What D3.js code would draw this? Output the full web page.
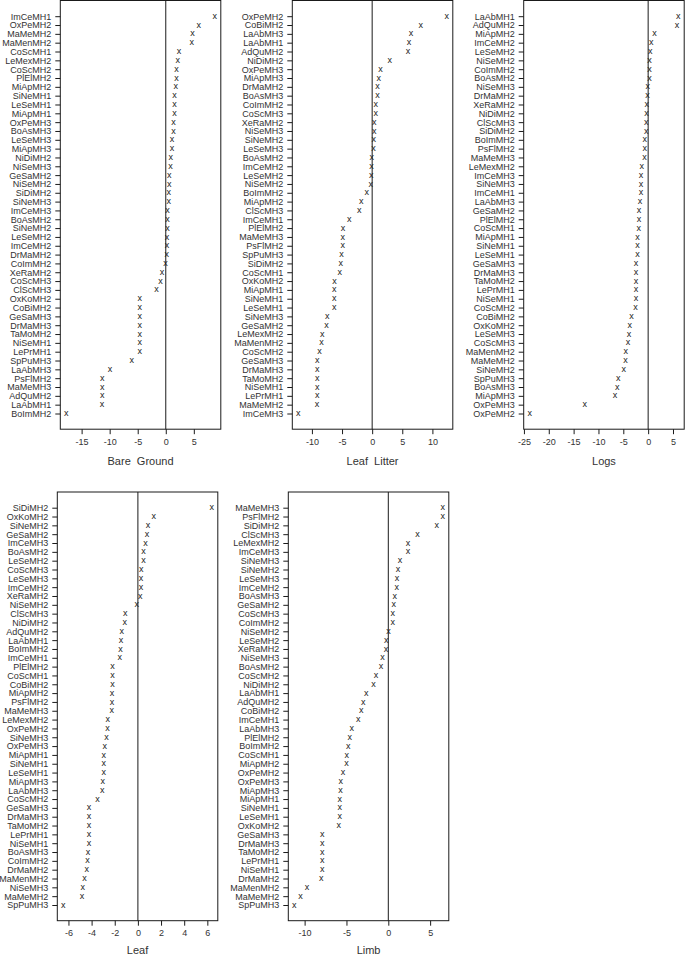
<!DOCTYPE html>
<html>
<head>
<meta charset="utf-8">
<script src="https://cdn.jsdelivr.net/npm/d3@7"></script>
<style>
  body { margin: 0; background: #fff; }
  svg { display: block; font-family: "Liberation Sans", Arial, sans-serif; }
</style>
</head>
<body>
<svg id="chart" width="685" height="956"></svg>
<script>
// Bare Ground panel (top to bottom)
var bareGroundSites = ["ImCeMH1","OxPeMH2","MaMeMH2","MaMenMH2","CoScMH1","LeMexMH2","CoScMH2","PlElMH2","MiApMH2","SiNeMH1","LeSeMH1","MiApMH1","OxPeMH3","BoAsMH3","LeSeMH3","MiApMH3","NiDiMH2","NiSeMH3","GeSaMH2","NiSeMH2","SiDiMH2","SiNeMH3","ImCeMH3","BoAsMH2","SiNeMH2","LeSeMH2","ImCeMH2","DrMaMH2","CoImMH2","XeRaMH2","CoScMH3","ClScMH3","OxKoMH2","CoBiMH2","GeSaMH3","DrMaMH3","TaMoMH2","NiSeMH1","LePrMH1","SpPuMH3","LaAbMH3","PsFlMH2","MaMeMH3","AdQuMH2","LaAbMH1","BoImMH2"];
var bareGroundValues = [8.75,5.9,4.76,4.64,2.38,2.14,1.9,1.9,1.79,1.55,1.55,1.55,1.37,1.37,1.13,1.13,0.89,0.83,0.6,0.6,0.54,0.54,0.3,0.3,0.3,0.24,0.24,0.18,-0.06,-0.65,-0.95,-1.67,-4.64,-4.64,-4.64,-4.64,-4.64,-4.64,-4.64,-6.07,-9.94,-11.31,-11.31,-11.31,-11.37,-17.74];

// Leaf Litter panel
var leafLitterSites = ["OxPeMH2","CoBiMH2","LaAbMH3","LaAbMH1","AdQuMH2","NiDiMH2","OxPeMH3","MiApMH3","DrMaMH2","BoAsMH3","CoImMH2","CoScMH3","XeRaMH2","NiSeMH3","SiNeMH2","LeSeMH3","BoAsMH2","ImCeMH2","LeSeMH2","NiSeMH2","BoImMH2","MiApMH2","ClScMH3","ImCeMH1","PlElMH2","MaMeMH3","PsFlMH2","SpPuMH3","SiDiMH2","CoScMH1","OxKoMH2","MiApMH1","SiNeMH1","LeSeMH1","SiNeMH3","GeSaMH2","LeMexMH2","MaMenMH2","CoScMH2","GeSaMH3","DrMaMH3","TaMoMH2","NiSeMH1","LePrMH1","MaMeMH2","ImCeMH3"];
var leafLitterValues = [12.4,8.07,6.46,6.13,5.97,2.93,1.38,1.1,0.88,0.88,0.6,0.6,0.33,0.33,0.28,0.22,-0.05,-0.1,-0.17,-0.22,-0.88,-1.82,-2.15,-3.8,-4.86,-4.9,-4.9,-5.08,-5.2,-5.36,-6.24,-6.3,-6.3,-6.3,-7.46,-7.57,-8.29,-8.4,-8.73,-9.12,-9.12,-9.12,-9.12,-9.12,-9.17,-12.27];

// Logs panel
var logsSites = ["LaAbMH1","AdQuMH2","MiApMH2","ImCeMH2","LeSeMH2","NiSeMH2","CoImMH2","BoAsMH2","NiSeMH3","DrMaMH2","XeRaMH2","NiDiMH2","ClScMH3","SiDiMH2","BoImMH2","PsFlMH2","MaMeMH3","LeMexMH2","ImCeMH3","SiNeMH3","ImCeMH1","LaAbMH3","GeSaMH2","PlElMH2","CoScMH1","MiApMH1","SiNeMH1","LeSeMH1","GeSaMH3","DrMaMH3","TaMoMH2","LePrMH1","NiSeMH1","CoScMH2","CoBiMH2","OxKoMH2","LeSeMH3","CoScMH3","MaMenMH2","MaMeMH2","SiNeMH2","SpPuMH3","BoAsMH3","MiApMH3","OxPeMH3","OxPeMH2"];
var logsValues = [6.06,5.8,1.28,0.6,0.4,0.27,0.27,0.27,-0.07,-0.13,-0.27,-0.34,-0.4,-0.4,-0.67,-0.67,-0.74,-1.28,-1.42,-1.42,-1.42,-1.62,-1.82,-1.82,-1.89,-2.16,-2.16,-2.16,-2.43,-2.43,-2.43,-2.43,-2.43,-2.56,-3.37,-3.7,-3.84,-4.04,-4.51,-4.58,-4.92,-6.0,-6.2,-6.67,-12.74,-23.85];

// Leaf panel
var leafSites = ["SiDiMH2","OxKoMH2","SiNeMH2","GeSaMH2","ImCeMH3","BoAsMH2","LeSeMH2","CoScMH3","LeSeMH3","ImCeMH2","XeRaMH2","NiSeMH2","ClScMH3","NiDiMH2","AdQuMH2","LaAbMH1","BoImMH2","ImCeMH1","PlElMH2","CoScMH1","CoBiMH2","MiApMH2","PsFlMH2","MaMeMH3","LeMexMH2","OxPeMH2","SiNeMH3","OxPeMH3","MiApMH1","SiNeMH1","LeSeMH1","MiApMH3","LaAbMH3","CoScMH2","GeSaMH3","DrMaMH3","TaMoMH2","LePrMH1","NiSeMH1","BoAsMH3","CoImMH2","DrMaMH2","MaMenMH2","NiSeMH3","MaMeMH2","SpPuMH3"];
var leafValues = [6.39,1.36,0.87,0.78,0.66,0.49,0.49,0.29,0.26,0.26,0.2,-0.09,-1.1,-1.13,-1.39,-1.45,-1.5,-1.56,-2.2,-2.2,-2.2,-2.23,-2.23,-2.25,-2.6,-2.63,-2.72,-2.86,-2.95,-2.95,-2.95,-3.03,-3.09,-3.5,-4.22,-4.22,-4.22,-4.22,-4.22,-4.31,-4.36,-4.42,-4.62,-4.77,-4.83,-6.45];

// Limb panel
var limbSites = ["MaMeMH3","PsFlMH2","SiDiMH2","ClScMH3","LeMexMH2","ImCeMH3","SiNeMH3","SiNeMH2","LeSeMH3","ImCeMH2","BoAsMH3","GeSaMH2","CoScMH3","CoImMH2","NiSeMH2","LeSeMH2","XeRaMH2","NiSeMH3","BoAsMH2","CoScMH2","NiDiMH2","LaAbMH1","AdQuMH2","CoBiMH2","ImCeMH1","LaAbMH3","PlElMH2","BoImMH2","CoScMH1","MiApMH2","OxPeMH2","OxPeMH3","MiApMH3","MiApMH1","SiNeMH1","LeSeMH1","OxKoMH2","GeSaMH3","DrMaMH3","TaMoMH2","LePrMH1","NiSeMH1","DrMaMH2","MaMenMH2","MaMeMH2","SpPuMH3"];
var limbValues = [6.52,6.52,5.8,3.48,2.36,2.36,1.4,1.16,1.04,1.0,0.76,0.64,0.52,0.52,0.02,-0.24,-0.28,-0.68,-0.88,-1.48,-1.76,-2.64,-3.0,-3.24,-3.6,-4.36,-4.6,-4.8,-4.96,-5.0,-5.4,-5.68,-5.72,-5.8,-5.8,-5.8,-5.92,-7.88,-7.88,-7.88,-7.88,-7.88,-8.0,-9.72,-10.48,-11.24];

var panelTitles = ["Bare  Ground", "Leaf  Litter", "Logs", "Leaf", "Limb"];
var panelTicks = [
  [-15, -10, -5, 0, 5],
  [-10, -5, 0, 5, 10],
  [-25, -20, -15, -10, -5, 0, 5],
  [-6, -4, -2, 0, 2, 4, 6],
  [-10, -5, 0, 5]
];

var panels = [
  { sites: bareGroundSites, values: bareGroundValues, left: 60.3, top: 0.5 },
  { sites: leafLitterSites, values: leafLitterValues, left: 292.3, top: 0.5 },
  { sites: logsSites, values: logsValues, left: 523.7, top: 0.5 },
  { sites: leafSites, values: leafValues, left: 57.3, top: 492 },
  { sites: limbSites, values: limbValues, left: 288.3, top: 492 }
];

var boxW = 160.5;
var boxH = 428.7;
var rowPad = 15.7;
var ink = "#1a1a1a";

var svg = d3.select("#chart");

panels.forEach(function (p, i) {
  var g = svg.append("g");

  // R style 4% range extension
  var lo = d3.min(p.values), hi = d3.max(p.values);
  var ext = (hi - lo) * 0.04;
  var x = d3.scaleLinear()
    .domain([lo - ext, hi + ext])
    .range([p.left, p.left + boxW]);

  var y = d3.scalePoint()
    .domain(p.sites)
    .range([p.top + rowPad, p.top + boxH - rowPad]);

  var bottom = p.top + boxH;

  // box
  g.append("rect")
    .attr("x", p.left)
    .attr("y", p.top)
    .attr("width", boxW)
    .attr("height", boxH)
    .attr("fill", "none")
    .attr("stroke", ink)
    .attr("stroke-width", 1);

  // zero line
  g.append("line")
    .attr("x1", x(0)).attr("x2", x(0))
    .attr("y1", p.top).attr("y2", bottom)
    .attr("stroke", ink)
    .attr("stroke-width", 1);

  // x axis
  var xAxis = d3.axisBottom(x)
    .tickValues(panelTicks[i])
    .tickFormat(function (d) { return String(d); })
    .tickSize(5)
    .tickPadding(4);
  var ax = g.append("g")
    .attr("transform", "translate(0," + bottom + ")")
    .call(xAxis);
  ax.select(".domain").remove();
  ax.selectAll(".tick line").attr("stroke", ink);
  ax.selectAll(".tick text")
    .attr("font-size", "9px")
    .attr("fill", "#333")
    .attr("font-family", "Liberation Sans, Arial, sans-serif");

  // y axis with site labels
  var yAxis = d3.axisLeft(y).tickSize(5).tickPadding(4);
  var ay = g.append("g")
    .attr("transform", "translate(" + p.left + ",0)")
    .call(yAxis);
  ay.select(".domain").remove();
  ay.selectAll(".tick line").attr("stroke", ink);
  ay.selectAll(".tick text")
    .attr("font-size", "9px")
    .attr("fill", "#333")
    .attr("font-family", "Liberation Sans, Arial, sans-serif");

  // points drawn as "x"
  g.selectAll("text.pt")
    .data(p.sites)
    .enter()
    .append("text")
    .attr("class", "pt")
    .attr("x", function (d, k) { return x(p.values[k]); })
    .attr("y", function (d) { return y(d) + 2.6; })
    .attr("text-anchor", "middle")
    .attr("font-size", "9px")
    .attr("fill", ink)
    .text("x");

  // axis title
  g.append("text")
    .attr("x", p.left + boxW / 2)
    .attr("y", Math.min(bottom + 36, 954))
    .attr("text-anchor", "middle")
    .attr("font-size", "11px")
    .attr("fill", "#333")
    .style("white-space", "pre")
    .text(panelTitles[i]);
});
</script>
</body>
</html>
